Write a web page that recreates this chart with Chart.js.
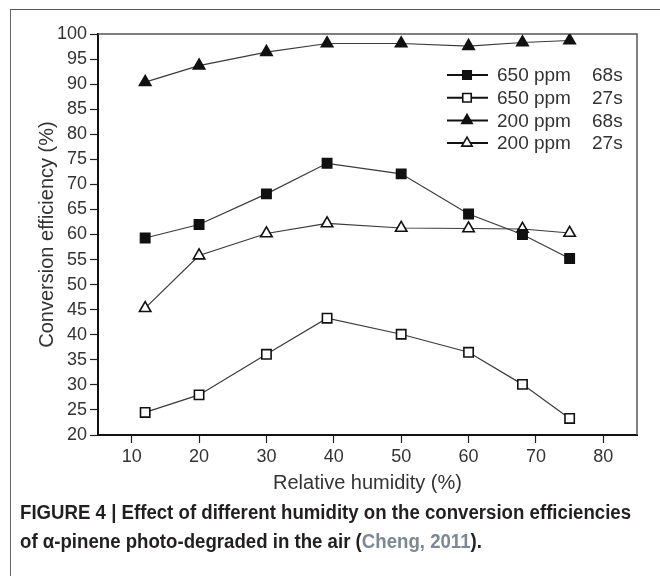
<!DOCTYPE html>
<html>
<head>
<meta charset="utf-8">
<script src="https://cdn.jsdelivr.net/npm/chart.js@4.4.1/dist/chart.umd.min.js"></script>
<style>
    body { margin: 0; background: #fff; width: 660px; height: 581px; overflow: hidden; position: relative; }
    .frame { position: absolute; left: 10px; top: 9px; width: 660px; height: 566px;
             border-left: 1.5px solid #666; border-top: 1.5px solid #555; }
    #chart { position: absolute; left: 0; top: 0; }
    .caption { position: absolute; left: 20px; top: 498px; width: 700px; white-space: nowrap;
               font-family: "Liberation Sans Narrow", "Arial Narrow", "Liberation Sans", sans-serif;
               font-weight: bold; font-size: 20px; line-height: 29px; color: #231f20;
               transform: scaleX(0.932); transform-origin: left top; }
    .caption .ref { color: #7d8896; }
</style>
</head>
<body>
<div class="frame"></div>
<canvas id="chart" width="660" height="500"></canvas>
<div class="caption">FIGURE 4 | Effect of different humidity on the conversion efficiencies<br>of α-pinene photo-degraded in the air (<span class="ref">Cheng, 2011</span>).</div>
<script>
document.addEventListener('DOMContentLoaded', () => {
    // Humidity (%) and conversion efficiency (%)
    const humidity = [12, 20, 30, 39, 50, 60, 68, 75];
    const ppm650s68 = [59.3, 62.0, 68.1, 74.2, 72.1, 64.1, 60.0, 55.2];
    const ppm650s27 = [24.5, 28.0, 36.1, 43.3, 40.1, 36.5, 30.1, 23.3];
    const ppm200s68 = [90.4, 93.7, 96.4, 98.1, 98.1, 97.6, 98.3, 98.7];
    const ppm200s27 = [45.3, 55.8, 60.2, 62.2, 61.3, 61.2, 61.1, 60.3];

    const seriesConc = ['650 ppm', '650 ppm', '200 ppm', '200 ppm'];
    const seriesTime = ['68s', '27s', '68s', '27s'];
    const xTicks = [10, 20, 30, 40, 50, 60, 70, 80];

    const ink = '#333';
    const font = 'Liberation Sans, Arial, sans-serif';

    const makeSet = (i, values, style, filled) => ({
        label: seriesConc[i] + '   ' + seriesTime[i],
        data: humidity.map((h, k) => ({ x: h, y: values[k] })),
        borderColor: '#3a3a3a',
        borderWidth: 1.2,
        pointStyle: style,
        pointRadius: 6.6,
        pointBorderWidth: 1.6,
        pointBorderColor: '#111',
        pointBackgroundColor: filled ? '#111' : '#fff',
        fill: false,
        tension: 0
    });

    // legend drawn inside the plot, top right
    const innerLegend = {
        id: 'innerLegend',
        afterDatasetsDraw(chart) {
            const { ctx, chartArea } = chart;
            const x0 = chartArea.left + 349;
            const y0 = chartArea.top + 41;
            ctx.save();
            chart.data.datasets.forEach((ds, i) => {
                const y = y0 + i * 22.7;
                ctx.strokeStyle = '#111';
                ctx.lineWidth = 2;
                ctx.beginPath();
                ctx.moveTo(x0, y);
                ctx.lineTo(x0 + 41, y);
                ctx.stroke();
                ctx.fillStyle = ds.pointBackgroundColor;
                ctx.strokeStyle = ds.pointBorderColor;
                ctx.lineWidth = ds.pointBorderWidth;
                Chart.helpers.drawPoint(ctx, { pointStyle: ds.pointStyle, radius: 6, rotation: 0, borderWidth: ds.pointBorderWidth }, x0 + 20, y);
                ctx.fillStyle = ink;
                ctx.font = '19px ' + font;
                ctx.textBaseline = 'middle';
                ctx.textAlign = 'left';
                ctx.fillText(seriesConc[i], x0 + 50, y + 1);
                ctx.fillText(seriesTime[i], x0 + 145, y + 1);
            });
            ctx.restore();
        }
    };

    // top and right edges of the plot box
    const plotBox = {
        id: 'plotBox',
        beforeDatasetsDraw(chart) {
            const { ctx, chartArea: a } = chart;
            ctx.save();
            ctx.strokeStyle = '#555';
            ctx.lineWidth = 1.5;
            ctx.beginPath();
            ctx.moveTo(a.left, a.top);
            ctx.lineTo(a.right, a.top);
            ctx.lineTo(a.right, a.bottom);
            ctx.stroke();
            ctx.restore();
        }
    };

    const ctx = document.getElementById('chart').getContext('2d');
    new Chart(ctx, {
        type: 'line',
        data: {
            datasets: [
                makeSet(0, ppm650s68, 'rect', true),
                makeSet(1, ppm650s27, 'rect', false),
                makeSet(2, ppm200s68, 'triangle', true),
                makeSet(3, ppm200s27, 'triangle', false)
            ]
        },
        options: {
            responsive: false,
            animation: false,
            devicePixelRatio: 1,
            layout: { padding: { left: 10, right: 23, top: 34, bottom: 5 } },
            plugins: { legend: { display: false }, tooltip: { enabled: false } },
            scales: {
                x: {
                    type: 'linear',
                    min: 5,
                    max: 85,
                    afterBuildTicks: (scale) => { scale.ticks = xTicks.map(v => ({ value: v })); },
                    afterFit: (scale) => { scale.height = 60; },
                    ticks: { color: ink, font: { size: 18, family: font }, padding: 3, maxRotation: 0 },
                    grid: { drawOnChartArea: false, tickLength: 8, color: '#222', tickWidth: 1.2 },
                    border: { display: true, color: '#111', width: 2 },
                    title: { display: true, text: 'Relative humidity (%)', color: ink,
                             font: { size: 20, family: font }, padding: { top: 0, bottom: 0 } }
                },
                y: {
                    min: 20,
                    max: 100,
                    afterFit: (scale) => { scale.width = 88; },
                    ticks: { stepSize: 5, color: ink, font: { size: 18, family: font }, padding: 3 },
                    grid: { drawOnChartArea: false, tickLength: 8, color: '#222', tickWidth: 1.2 },
                    border: { display: true, color: '#111', width: 2 },
                    title: { display: true, text: 'Conversion efficiency (%)', color: ink,
                             font: { size: 20, family: font }, padding: { top: 25, bottom: 0 } }
                }
            }
        },
        plugins: [plotBox, innerLegend]
    });
});
</script>
</body>
</html>
